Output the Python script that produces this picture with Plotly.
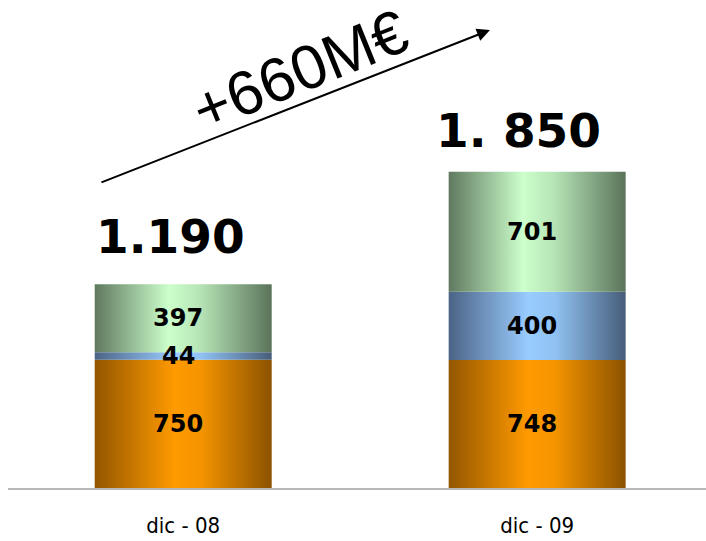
import plotly.graph_objects as go

categories = ["dic-08", "dic-09"]
tick_labels = ["dic - 08", "dic - 09"]
orange_vals = [750, 748]
blue_vals = [44, 400]
green_vals = [397, 701]
total_labels = ["1.190", "1. 850"]
growth_label = "+660M€"

series = [
    ("orange", orange_vals, [[0, "#935600"], [0.45, "#ff9a00"], [0.6, "#f59400"], [1, "#8c5200"]]),
    ("blue", blue_vals, [[0, "#4b6385"], [0.45, "#99ccff"], [0.6, "#90c2f2"], [1, "#475d7a"]]),
    ("green", green_vals, [[0, "#5f795f"], [0.42, "#ccffcc"], [0.6, "#b5e3b5"], [1, "#5a735a"]]),
]

half_w = 0.25
fig = go.Figure()
annotations = []
base = [0.0] * len(categories)
label_font = dict(family="DejaVu Sans", size=24, color="black")
for name, vals, cs in series:
    for i, v in enumerate(vals):
        b = base[i]
        t = b + v
        fig.add_trace(go.Scatter(
            x=[i - half_w, i + half_w, i + half_w, i - half_w, i - half_w],
            y=[b, b, t, t, b],
            mode="lines", line=dict(width=0), fill="toself",
            fillgradient=dict(type="horizontal", colorscale=cs),
            hoverinfo="skip", showlegend=False,
        ))
        annotations.append(dict(
            x=i, y=(b + t) / 2, xref="x", yref="y", text="<b>%d</b>" % v,
            showarrow=False, font=label_font, xshift=-5,
        ))
        base[i] = t

total_shift_x = [-13, -19]
total_shift_y = [18, 12]
for i, lab in enumerate(total_labels):
    annotations.append(dict(
        x=i, y=base[i], xref="x", yref="y", text="<b>%s</b>" % lab,
        showarrow=False, yanchor="bottom", xshift=total_shift_x[i], yshift=total_shift_y[i],
        font=dict(family="DejaVu Sans", size=47, color="black"),
    ))

# growth arrow
annotations.append(dict(
    x=0.6905, y=0.9385, xref="paper", yref="paper", ax=-390, ay=153,
    axref="pixel", ayref="pixel", text="", showarrow=True,
    arrowhead=2, arrowsize=1.3, arrowwidth=2, arrowcolor="black",
))
annotations.append(dict(
    x=0.418, y=0.855, xref="paper", yref="paper", text=growth_label,
    xanchor="center", yanchor="middle",
    showarrow=False, textangle=-22,
    font=dict(family="Liberation Sans", size=62, color="black"),
))

fig.update_layout(
    width=706, height=541,
    margin=dict(l=8, r=0, t=0, b=53),
    paper_bgcolor="white", plot_bgcolor="white",
    annotations=annotations,
    xaxis=dict(
        range=[-0.495, 1.477], tickvals=list(range(len(categories))), ticktext=tick_labels,
        showgrid=False, zeroline=False, showline=True, linecolor="#b8b8b8", linewidth=2,
        ticks="", ticklabelstandoff=17, automargin=False,
        tickfont=dict(family="DejaVu Sans Condensed", size=22, color="black"),
    ),
    yaxis=dict(range=[0, 2854], visible=False, showgrid=False, zeroline=False, automargin=False),
)

fig.write_html("out.html")
